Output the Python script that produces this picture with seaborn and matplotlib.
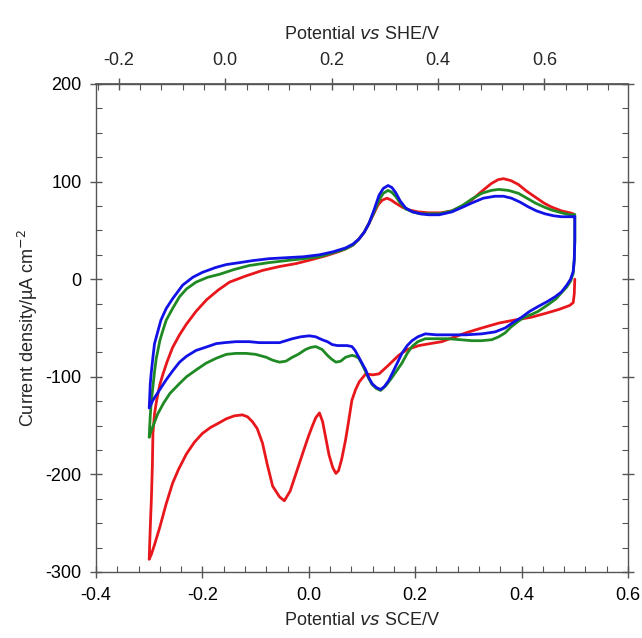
import numpy as np
import pandas as pd
import seaborn as sns
import matplotlib
matplotlib.use("Agg")
import matplotlib.pyplot as plt
from matplotlib.ticker import MultipleLocator

# potential vs SCE (V) and current density (uA/cm2)
red_x = [0.500, 0.499, 0.497, 0.490, 0.470, 0.445, 0.418, 0.385, 0.357, 0.325, 0.295, 0.270, 0.250, 0.228,
         0.207, 0.185, 0.169, 0.150, 0.132, 0.120, 0.107, 0.095, 0.088, 0.081, 0.075, 0.069, 0.062, 0.056,
         0.051, 0.045, 0.038, 0.032, 0.026, 0.020, 0.013, 0.007, 0.000, -0.010, -0.024, -0.035, -0.046,
         -0.055, -0.068, -0.078, -0.087, -0.097, -0.106, -0.115, -0.125, -0.140, -0.155, -0.168, -0.185,
         -0.200, -0.215, -0.230, -0.245, -0.256, -0.268, -0.280, -0.290, -0.296, -0.300,
         -0.299, -0.297, -0.296, -0.294, -0.293, -0.290, -0.286, -0.280, -0.274, -0.266, -0.256, -0.243,
         -0.230, -0.212, -0.192, -0.170, -0.149, -0.120, -0.087, -0.055, -0.024, 0.005, 0.032, 0.055,
         0.069, 0.083, 0.094, 0.104, 0.113, 0.122, 0.130, 0.138, 0.147, 0.155, 0.163, 0.175, 0.188, 0.205,
         0.225, 0.248, 0.269, 0.290, 0.306, 0.325, 0.343, 0.356, 0.366, 0.380, 0.394, 0.410, 0.426, 0.442,
         0.456, 0.475, 0.491, 0.497]
red_y = [0, -15, -24, -27, -31, -35, -39, -42, -45, -50, -55, -60, -64, -66,
         -68, -72, -78, -88, -97, -98, -97, -105, -113, -124, -145, -165, -184, -196,
         -199, -193, -180, -163, -146, -137, -142, -150, -160, -176, -199, -217, -227,
         -223, -212, -190, -168, -153, -146, -141, -139, -140, -143, -147, -152,
         -158, -167, -179, -195, -209, -230, -254, -272, -282, -287,
         -270, -240, -227, -190, -158, -138, -124, -108, -97, -84, -70, -57,
         -46, -33, -21, -11, -3, 3, 9, 13, 16, 20, 24, 28,
         31, 35, 41, 48, 57, 67, 76, 81, 83, 81, 78, 74, 71, 69,
         68, 68, 70, 75, 81, 90, 98, 102, 103, 101, 97, 90, 84, 78,
         74, 70, 68, 67]

green_x = [0.500, 0.500, 0.499, 0.497, 0.492, 0.485, 0.478, 0.465, 0.450, 0.431, 0.419, 0.405, 0.394, 0.380,
           0.369, 0.357, 0.344, 0.325, 0.306, 0.285, 0.263, 0.240, 0.219, 0.205, 0.194, 0.185, 0.175, 0.165,
           0.156, 0.145, 0.135, 0.127, 0.119, 0.112, 0.107, 0.100, 0.094, 0.088, 0.081, 0.075, 0.069, 0.060,
           0.051, 0.043, 0.035, 0.025, 0.013, 0.003, -0.006, -0.020, -0.031, -0.043, -0.055, -0.068, -0.080,
           -0.100, -0.118, -0.137, -0.155, -0.174, -0.193, -0.212, -0.230, -0.245, -0.261, -0.273, -0.284,
           -0.291, -0.296, -0.300,
           -0.299, -0.298, -0.296, -0.293, -0.290, -0.287, -0.280, -0.274, -0.268, -0.256, -0.243, -0.230,
           -0.212, -0.190, -0.168, -0.140, -0.112, -0.075, -0.043, -0.010, 0.020, 0.045, 0.069, 0.083, 0.094,
           0.104, 0.113, 0.122, 0.132, 0.140, 0.149, 0.156, 0.163, 0.172, 0.182, 0.195, 0.210, 0.225, 0.245,
           0.269, 0.290, 0.306, 0.325, 0.343, 0.357, 0.375, 0.394, 0.410, 0.426, 0.442, 0.456, 0.475, 0.491,
           0.500]
green_y = [66, 40, 20, 6, -2, -8, -12, -20, -26, -33, -36, -39, -43, -49,
           -55, -59, -62, -63, -63, -62, -61, -61, -61, -64, -69, -76, -86, -94,
           -101, -109, -114, -112, -108, -101, -95, -87, -81, -79, -78, -79, -80, -84,
           -85, -82, -78, -72, -69, -70, -72, -77, -80, -84, -85, -83, -80,
           -77, -76, -76, -77, -81, -86, -93, -100, -108, -117, -127, -138,
           -148, -155, -162,
           -150, -140, -125, -110, -95, -82, -63, -52, -42, -30, -18, -10,
           -3, 2, 5, 10, 14, 17, 19, 21, 23, 27, 31, 35, 41,
           48, 57, 68, 81, 88, 91, 89, 85, 78, 72, 69, 67, 67, 67,
           70, 76, 82, 88, 91, 92, 91, 88, 83, 78, 74, 71, 68, 66,
           66]

blue_x = [0.500, 0.500, 0.499, 0.497, 0.492, 0.485, 0.475, 0.463, 0.448, 0.431, 0.415, 0.400, 0.385, 0.369,
          0.350, 0.325, 0.295, 0.263, 0.240, 0.219, 0.205, 0.194, 0.185, 0.175, 0.160, 0.150, 0.142, 0.135,
          0.127, 0.119, 0.112, 0.107, 0.100, 0.094, 0.087, 0.081, 0.072, 0.063, 0.054, 0.044, 0.035, 0.025,
          0.013, 0.001, -0.015, -0.031, -0.043, -0.055, -0.075, -0.093, -0.112, -0.137, -0.158, -0.174,
          -0.190, -0.212, -0.230, -0.243, -0.256, -0.268, -0.280, -0.293, -0.300,
          -0.299, -0.298, -0.296, -0.293, -0.290, -0.284, -0.278, -0.268, -0.256, -0.237, -0.218, -0.200,
          -0.175, -0.155, -0.130, -0.106, -0.075, -0.043, -0.010, 0.020, 0.045, 0.069, 0.083, 0.094, 0.104,
          0.113, 0.122, 0.132, 0.140, 0.149, 0.156, 0.163, 0.172, 0.182, 0.195, 0.210, 0.225, 0.245, 0.269,
          0.290, 0.306, 0.328, 0.350, 0.366, 0.381, 0.397, 0.413, 0.428, 0.444, 0.460, 0.475, 0.491, 0.500]
blue_y = [64, 40, 20, 8, 0, -6, -13, -18, -23, -28, -33, -39, -44, -50,
          -54, -56, -57, -57, -57, -56, -59, -63, -68, -76, -93, -104, -110, -113,
          -111, -107, -100, -93, -86, -80, -73, -69, -68, -68, -68, -67, -64, -62,
          -59, -58, -59, -61, -63, -65, -65, -65, -64, -64, -65, -66,
          -69, -73, -79, -85, -94, -103, -113, -124, -132,
          -120, -107, -95, -80, -66, -54, -42, -30, -20, -6, 2, 7,
          12, 15, 17, 19, 21, 22, 23, 25, 28, 32, 36, 41, 48,
          57, 70, 86, 93, 96, 94, 89, 80, 73, 69, 67, 66, 66, 69,
          74, 78, 83, 85, 85, 83, 79, 74, 70, 67, 65, 64, 64, 64]

series = [("red", red_x, red_y, "#e8171c"),
          ("green", green_x, green_y, "#1f8a24"),
          ("blue", blue_x, blue_y, "#1212e6")]

sns.set_theme(style="white")
plt.rcParams['font.family'] = ['Liberation Sans', 'DejaVu Sans']
plt.rcParams['axes.unicode_minus'] = False

fig = plt.figure(figsize=(6.42, 6.38), dpi=100)
ax = fig.add_axes([96/642, 1-572/638, (628-96)/642, (572-84)/638])

for name, xs, ys, col in series:
    df = pd.DataFrame({"E": xs, "j": ys})
    sns.lineplot(data=df, x="E", y="j", sort=False, estimator=None, color=col, lw=2.0, ax=ax)

ax.set_xlim(-0.4, 0.6)
ax.set_ylim(-300, 200)
ax.xaxis.set_major_locator(MultipleLocator(0.2))
ax.xaxis.set_minor_locator(MultipleLocator(0.04))
ax.yaxis.set_major_locator(MultipleLocator(100))
ax.yaxis.set_minor_locator(MultipleLocator(25))
ax.set_xticks(np.arange(-0.4, 0.61, 0.2))
ax.set_xticklabels(["-0.4", "-0.2", "0.0", "0.2", "0.4", "0.6"])

sc = "#555555"
for s in ax.spines.values():
    s.set_color(sc)
    s.set_linewidth(1.0)

ax.tick_params(which="major", direction="inout", length=9, width=1.0, color=sc,
               labelsize=13, labelcolor="black", bottom=True, left=True, right=True, top=False, pad=6)
ax.tick_params(which="minor", direction="in", length=4, width=0.8, color=sc,
               bottom=True, left=True, right=True, top=False)

ax.set_xlabel("Potential $\\it{vs}$ SCE/V", fontsize=13, labelpad=6)
ax.set_ylabel("Current density/µA cm$^{-2}$", fontsize=13, labelpad=4)

# top axis: SHE scale
off = 0.157
top = ax.secondary_xaxis("top", functions=(lambda x: x + off, lambda x: x - off))
top.xaxis.set_major_locator(MultipleLocator(0.2))
top.xaxis.set_minor_locator(MultipleLocator(0.04))
top.set_xticks([-0.2, 0.0, 0.2, 0.4, 0.6])
top.set_xticklabels(["-0.2", "0.0", "0.2", "0.4", "0.6"])
top.spines["top"].set_color(sc)
top.tick_params(which="major", direction="inout", length=9, width=1.0, color=sc, labelsize=13, pad=6)
top.tick_params(which="minor", direction="in", length=4, width=0.8, color=sc)
top.set_xlabel("Potential $\\it{vs}$ SHE/V", fontsize=13, labelpad=10)

fig.savefig("out.png", dpi=100)
